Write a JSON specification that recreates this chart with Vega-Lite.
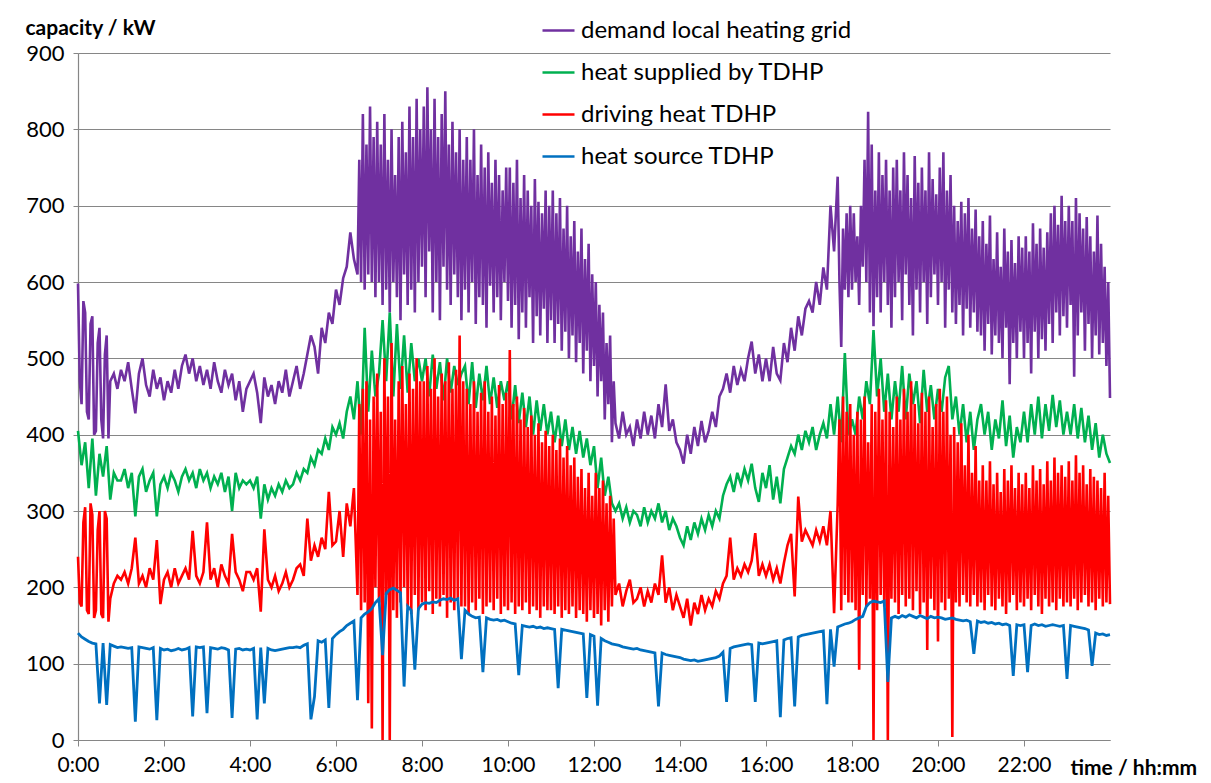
{
"$schema":"https://vega.github.io/schema/vega-lite/v6.json",
"width":1032,"height":687,
"autosize":{"type":"none"},
"padding":{"left":78,"top":53,"right":101,"bottom":43},
"background":"white",
"config":{"view":{"stroke":null},"font":"Lato"},
"data":{"values":[
{"m":0,"d":598,"g":405,"r":240,"b":140},{"m":5,"d":440,"g":360,"r":175,"b":135},{"m":10,"d":560,"g":390,"r":305,"b":132},{"m":15,"d":420,"g":330,"r":165,"b":129},{"m":20,"d":555,"g":395,"r":295,"b":127},{"m":25,"d":405,"g":320,"r":170,"b":126},{"m":30,"d":540,"g":375,"r":300,"b":48},{"m":35,"d":395,"g":345,"r":160,"b":127},{"m":40,"d":530,"g":385,"r":290,"b":46},{"m":45,"d":470,"g":315,"r":185,"b":125},{"m":50,"d":480,"g":350,"r":205,"b":123},{"m":55,"d":460,"g":340,"r":215,"b":121},
{"m":60,"d":485,"g":340,"r":210,"b":122},{"m":65,"d":470,"g":355,"r":220,"b":121},{"m":70,"d":495,"g":330,"r":205,"b":120},{"m":75,"d":460,"g":350,"r":225,"b":121},{"m":80,"d":428,"g":293,"r":265,"b":24},{"m":85,"d":480,"g":345,"r":205,"b":122},{"m":90,"d":500,"g":355,"r":215,"b":121},{"m":95,"d":465,"g":325,"r":200,"b":120},{"m":100,"d":450,"g":340,"r":225,"b":119},{"m":105,"d":485,"g":350,"r":210,"b":121},{"m":110,"d":460,"g":293,"r":262,"b":26},{"m":115,"d":475,"g":335,"r":178,"b":120},
{"m":120,"d":445,"g":345,"r":210,"b":118},{"m":125,"d":470,"g":330,"r":220,"b":119},{"m":130,"d":455,"g":350,"r":200,"b":117},{"m":135,"d":485,"g":340,"r":225,"b":118},{"m":140,"d":460,"g":325,"r":205,"b":120},{"m":145,"d":490,"g":345,"r":215,"b":118},{"m":150,"d":505,"g":355,"r":225,"b":119},{"m":155,"d":480,"g":340,"r":210,"b":121},{"m":160,"d":500,"g":350,"r":274,"b":31},{"m":165,"d":470,"g":330,"r":215,"b":122},{"m":170,"d":490,"g":355,"r":205,"b":121},{"m":175,"d":465,"g":340,"r":220,"b":122},
{"m":180,"d":485,"g":350,"r":285,"b":35},{"m":185,"d":460,"g":330,"r":210,"b":121},{"m":190,"d":495,"g":345,"r":225,"b":120},{"m":195,"d":470,"g":335,"r":200,"b":119},{"m":200,"d":455,"g":350,"r":230,"b":121},{"m":205,"d":485,"g":325,"r":215,"b":120},{"m":210,"d":465,"g":345,"r":205,"b":118},{"m":215,"d":480,"g":300,"r":270,"b":29},{"m":220,"d":445,"g":350,"r":220,"b":119},{"m":225,"d":470,"g":330,"r":210,"b":120},{"m":230,"d":430,"g":340,"r":195,"b":118},{"m":235,"d":460,"g":335,"r":220,"b":119},
{"m":240,"d":470,"g":340,"r":220,"b":118},{"m":245,"d":480,"g":330,"r":210,"b":120},{"m":250,"d":455,"g":345,"r":225,"b":27},{"m":255,"d":415,"g":290,"r":168,"b":121},{"m":260,"d":475,"g":335,"r":276,"b":48},{"m":265,"d":450,"g":315,"r":210,"b":120},{"m":270,"d":465,"g":330,"r":200,"b":118},{"m":275,"d":440,"g":320,"r":215,"b":117},{"m":280,"d":470,"g":335,"r":195,"b":118},{"m":285,"d":455,"g":325,"r":205,"b":119},{"m":290,"d":485,"g":340,"r":220,"b":120},{"m":295,"d":450,"g":330,"r":200,"b":121},
{"m":300,"d":470,"g":335,"r":210,"b":121},{"m":305,"d":490,"g":350,"r":225,"b":122},{"m":310,"d":460,"g":340,"r":230,"b":121},{"m":315,"d":480,"g":355,"r":215,"b":124},{"m":320,"d":505,"g":350,"r":290,"b":126},{"m":325,"d":530,"g":370,"r":235,"b":27},{"m":330,"d":515,"g":360,"r":255,"b":57},{"m":335,"d":480,"g":380,"r":240,"b":130},{"m":340,"d":540,"g":375,"r":265,"b":128},{"m":345,"d":520,"g":395,"r":250,"b":131},{"m":350,"d":560,"g":380,"r":325,"b":42},{"m":355,"d":545,"g":410,"r":255,"b":133},
{"m":360,"d":590,"g":400,"r":260,"b":138},{"m":365,"d":570,"g":415,"r":300,"b":142},{"m":370,"d":605,"g":395,"r":240,"b":145},{"m":375,"d":620,"g":430,"r":310,"b":150},{"m":380,"d":665,"g":450,"r":280,"b":153},{"m":385,"d":630,"g":420,"r":330,"b":156},{"m":390,"d":610,"g":470,"r":190,"b":52},{"m":395,"d":600,"g":400,"r":170,"b":160},{"m":400,"d":590,"g":540,"r":180,"b":165},{"m":405,"d":610,"g":430,"r":48,"b":168},{"m":410,"d":600,"g":510,"r":15,"b":172},{"m":415,"d":580,"g":450,"r":200,"b":180},
{"m":420,"d":600,"g":480,"r":180,"b":185},{"m":425,"d":570,"g":550,"r":0,"b":111},{"m":430,"d":590,"g":470,"r":190,"b":192},{"m":435,"d":560,"g":560,"r":0,"b":197},{"m":440,"d":600,"g":450,"r":170,"b":199},{"m":445,"d":580,"g":545,"r":160,"b":196},{"m":450,"d":550,"g":460,"r":180,"b":193},{"m":455,"d":610,"g":530,"r":200,"b":70},{"m":460,"d":570,"g":455,"r":175,"b":175},{"m":465,"d":590,"g":520,"r":165,"b":170},{"m":470,"d":560,"g":470,"r":190,"b":92},{"m":475,"d":600,"g":500,"r":170,"b":172},
{"m":480,"d":620,"g":470,"r":180,"b":178},{"m":485,"d":580,"g":500,"r":170,"b":180},{"m":490,"d":640,"g":450,"r":195,"b":179},{"m":495,"d":560,"g":505,"r":165,"b":181},{"m":500,"d":600,"g":460,"r":185,"b":180},{"m":505,"d":550,"g":495,"r":175,"b":183},{"m":510,"d":620,"g":445,"r":190,"b":185},{"m":515,"d":590,"g":500,"r":160,"b":184},{"m":520,"d":570,"g":455,"r":180,"b":186},{"m":525,"d":610,"g":490,"r":170,"b":183},{"m":530,"d":580,"g":465,"r":185,"b":185},{"m":535,"d":550,"g":480,"r":175,"b":106},
{"m":540,"d":590,"g":490,"r":175,"b":170},{"m":545,"d":560,"g":440,"r":165,"b":165},{"m":550,"d":600,"g":495,"r":180,"b":162},{"m":555,"d":545,"g":435,"r":170,"b":160},{"m":560,"d":580,"g":480,"r":185,"b":161},{"m":565,"d":570,"g":445,"r":165,"b":89},{"m":570,"d":540,"g":490,"r":175,"b":160},{"m":575,"d":595,"g":440,"r":180,"b":158},{"m":580,"d":560,"g":475,"r":170,"b":157},{"m":585,"d":580,"g":435,"r":185,"b":158},{"m":590,"d":550,"g":470,"r":165,"b":156},{"m":595,"d":600,"g":445,"r":175,"b":157},
{"m":600,"d":575,"g":470,"r":170,"b":155},{"m":605,"d":540,"g":420,"r":180,"b":153},{"m":610,"d":570,"g":465,"r":165,"b":152},{"m":615,"d":525,"g":415,"r":175,"b":85},{"m":620,"d":560,"g":455,"r":170,"b":150},{"m":625,"d":540,"g":410,"r":180,"b":149},{"m":630,"d":580,"g":450,"r":165,"b":148},{"m":635,"d":520,"g":400,"r":175,"b":149},{"m":640,"d":555,"g":445,"r":170,"b":147},{"m":645,"d":530,"g":405,"r":160,"b":148},{"m":650,"d":565,"g":440,"r":175,"b":146},{"m":655,"d":520,"g":400,"r":170,"b":147},
{"m":660,"d":550,"g":430,"r":170,"b":146},{"m":665,"d":520,"g":390,"r":165,"b":145},{"m":670,"d":545,"g":425,"r":175,"b":68},{"m":675,"d":510,"g":385,"r":160,"b":145},{"m":680,"d":535,"g":420,"r":170,"b":144},{"m":685,"d":500,"g":380,"r":165,"b":143},{"m":690,"d":530,"g":410,"r":175,"b":142},{"m":695,"d":495,"g":375,"r":160,"b":141},{"m":700,"d":520,"g":405,"r":170,"b":140},{"m":705,"d":480,"g":370,"r":165,"b":139},{"m":710,"d":510,"g":395,"r":155,"b":55},{"m":715,"d":470,"g":360,"r":170,"b":138},
{"m":720,"d":490,"g":385,"r":160,"b":136},{"m":725,"d":450,"g":330,"r":165,"b":45},{"m":730,"d":470,"g":370,"r":150,"b":133},{"m":735,"d":420,"g":320,"r":170,"b":130},{"m":740,"d":440,"g":345,"r":155,"b":128},{"m":745,"d":390,"g":310,"r":175,"b":126},{"m":750,"d":415,"g":300,"r":190,"b":125},{"m":755,"d":395,"g":310,"r":205,"b":124},{"m":760,"d":430,"g":290,"r":175,"b":122},{"m":765,"d":400,"g":305,"r":195,"b":121},{"m":770,"d":410,"g":285,"r":210,"b":120},{"m":775,"d":385,"g":300,"r":180,"b":119},
{"m":780,"d":420,"g":295,"r":185,"b":120},{"m":785,"d":395,"g":280,"r":200,"b":118},{"m":790,"d":430,"g":305,"r":175,"b":117},{"m":795,"d":400,"g":285,"r":195,"b":116},{"m":800,"d":425,"g":300,"r":180,"b":115},{"m":805,"d":395,"g":290,"r":205,"b":114},{"m":810,"d":440,"g":310,"r":190,"b":44},{"m":815,"d":410,"g":285,"r":242,"b":114},{"m":820,"d":466,"g":300,"r":180,"b":112},{"m":825,"d":405,"g":275,"r":200,"b":111},{"m":830,"d":420,"g":290,"r":170,"b":110},{"m":835,"d":390,"g":280,"r":190,"b":109},
{"m":840,"d":380,"g":265,"r":175,"b":108},{"m":845,"d":362,"g":255,"r":160,"b":106},{"m":850,"d":400,"g":280,"r":185,"b":105},{"m":855,"d":375,"g":262,"r":150,"b":104},{"m":860,"d":410,"g":285,"r":180,"b":105},{"m":865,"d":385,"g":270,"r":165,"b":103},{"m":870,"d":418,"g":290,"r":190,"b":104},{"m":875,"d":390,"g":275,"r":170,"b":105},{"m":880,"d":405,"g":295,"r":185,"b":106},{"m":885,"d":430,"g":280,"r":175,"b":107},{"m":890,"d":410,"g":300,"r":195,"b":108},{"m":895,"d":450,"g":290,"r":185,"b":110},
{"m":900,"d":460,"g":320,"r":205,"b":115},{"m":905,"d":480,"g":335,"r":215,"b":50},{"m":910,"d":455,"g":345,"r":265,"b":120},{"m":915,"d":490,"g":325,"r":210,"b":122},{"m":920,"d":465,"g":350,"r":225,"b":123},{"m":925,"d":485,"g":335,"r":215,"b":124},{"m":930,"d":470,"g":355,"r":230,"b":125},{"m":935,"d":500,"g":340,"r":220,"b":126},{"m":940,"d":522,"g":362,"r":235,"b":125},{"m":945,"d":480,"g":330,"r":271,"b":50},{"m":950,"d":505,"g":312,"r":215,"b":127},{"m":955,"d":470,"g":350,"r":230,"b":126},
{"m":960,"d":500,"g":330,"r":215,"b":127},{"m":965,"d":470,"g":360,"r":230,"b":128},{"m":970,"d":515,"g":315,"r":210,"b":129},{"m":975,"d":480,"g":345,"r":225,"b":130},{"m":980,"d":471,"g":310,"r":205,"b":30},{"m":985,"d":520,"g":355,"r":232,"b":131},{"m":990,"d":495,"g":370,"r":255,"b":133},{"m":995,"d":540,"g":385,"r":270,"b":134},{"m":1000,"d":510,"g":375,"r":188,"b":44},{"m":1005,"d":555,"g":400,"r":319,"b":135},{"m":1010,"d":530,"g":380,"r":260,"b":137},{"m":1015,"d":565,"g":405,"r":275,"b":138},
{"m":1020,"d":575,"g":390,"r":265,"b":139},{"m":1025,"d":560,"g":410,"r":255,"b":140},{"m":1030,"d":600,"g":380,"r":275,"b":141},{"m":1035,"d":570,"g":400,"r":260,"b":142},{"m":1040,"d":619,"g":415,"r":280,"b":143},{"m":1045,"d":590,"g":395,"r":255,"b":47},{"m":1050,"d":700,"g":440,"r":300,"b":145},{"m":1055,"d":640,"g":400,"r":166,"b":96},{"m":1060,"d":738,"g":450,"r":308,"b":148},{"m":1065,"d":515,"g":390,"r":170,"b":150},{"m":1070,"d":590,"g":507,"r":190,"b":152},{"m":1075,"d":580,"g":400,"r":180,"b":153},
{"m":1080,"d":590,"g":420,"r":180,"b":155},{"m":1085,"d":600,"g":400,"r":170,"b":158},{"m":1090,"d":570,"g":450,"r":92,"b":160},{"m":1095,"d":620,"g":420,"r":190,"b":162},{"m":1100,"d":600,"g":470,"r":175,"b":175},{"m":1105,"d":560,"g":440,"r":185,"b":180},{"m":1110,"d":542,"g":537,"r":0,"b":182},{"m":1115,"d":580,"g":450,"r":170,"b":181},{"m":1120,"d":560,"g":500,"r":190,"b":180},{"m":1125,"d":600,"g":430,"r":175,"b":182},{"m":1130,"d":570,"g":480,"r":0,"b":76},{"m":1135,"d":540,"g":420,"r":185,"b":160},
{"m":1140,"d":580,"g":470,"r":180,"b":162},{"m":1145,"d":600,"g":430,"r":165,"b":160},{"m":1150,"d":550,"g":490,"r":190,"b":163},{"m":1155,"d":610,"g":420,"r":175,"b":161},{"m":1160,"d":570,"g":480,"r":185,"b":164},{"m":1165,"d":530,"g":440,"r":170,"b":162},{"m":1170,"d":590,"g":470,"r":195,"b":160},{"m":1175,"d":560,"g":415,"r":165,"b":163},{"m":1180,"d":600,"g":485,"r":180,"b":161},{"m":1185,"d":545,"g":430,"r":118,"b":159},{"m":1190,"d":580,"g":465,"r":185,"b":162},{"m":1195,"d":610,"g":420,"r":170,"b":160},
{"m":1200,"d":570,"g":460,"r":129,"b":161},{"m":1205,"d":600,"g":430,"r":180,"b":160},{"m":1210,"d":540,"g":475,"r":170,"b":158},{"m":1215,"d":590,"g":490,"r":185,"b":159},{"m":1220,"d":560,"g":420,"r":4,"b":160},{"m":1225,"d":545,"g":450,"r":180,"b":158},{"m":1230,"d":570,"g":400,"r":175,"b":157},{"m":1235,"d":530,"g":440,"r":190,"b":156},{"m":1240,"d":565,"g":390,"r":180,"b":157},{"m":1245,"d":540,"g":430,"r":175,"b":155},{"m":1250,"d":560,"g":380,"r":190,"b":113},{"m":1255,"d":535,"g":420,"r":175,"b":156},
{"m":1260,"d":530,"g":440,"r":180,"b":154},{"m":1265,"d":510,"g":400,"r":170,"b":155},{"m":1270,"d":545,"g":430,"r":190,"b":153},{"m":1275,"d":505,"g":380,"r":175,"b":154},{"m":1280,"d":530,"g":420,"r":170,"b":152},{"m":1285,"d":520,"g":395,"r":185,"b":153},{"m":1290,"d":500,"g":445,"r":175,"b":151},{"m":1295,"d":540,"g":385,"r":165,"b":152},{"m":1300,"d":466,"g":425,"r":180,"b":150},{"m":1305,"d":520,"g":370,"r":190,"b":84},{"m":1310,"d":500,"g":410,"r":170,"b":151},{"m":1315,"d":535,"g":390,"r":180,"b":150},
{"m":1320,"d":500,"g":430,"r":175,"b":151},{"m":1325,"d":520,"g":390,"r":185,"b":89},{"m":1330,"d":480,"g":440,"r":170,"b":150},{"m":1335,"d":535,"g":400,"r":190,"b":152},{"m":1340,"d":500,"g":450,"r":175,"b":150},{"m":1345,"d":525,"g":395,"r":165,"b":151},{"m":1350,"d":510,"g":440,"r":185,"b":149},{"m":1355,"d":545,"g":405,"r":175,"b":150},{"m":1360,"d":520,"g":452,"r":180,"b":151},{"m":1365,"d":560,"g":410,"r":170,"b":150},{"m":1370,"d":530,"g":445,"r":185,"b":149},{"m":1375,"d":555,"g":400,"r":175,"b":150},
{"m":1380,"d":540,"g":430,"r":180,"b":80},{"m":1385,"d":570,"g":400,"r":175,"b":150},{"m":1390,"d":476,"g":440,"r":185,"b":149},{"m":1395,"d":530,"g":395,"r":170,"b":148},{"m":1400,"d":560,"g":435,"r":180,"b":147},{"m":1405,"d":510,"g":390,"r":190,"b":146},{"m":1410,"d":545,"g":425,"r":175,"b":144},{"m":1415,"d":500,"g":380,"r":180,"b":97},{"m":1420,"d":530,"g":415,"r":170,"b":140},{"m":1425,"d":505,"g":370,"r":185,"b":138},{"m":1430,"d":520,"g":400,"r":175,"b":139},{"m":1435,"d":490,"g":375,"r":180,"b":137},{"m":1440,"d":448,"g":363,"r":178,"b":138},
{"m":2.5,"d":470,"r":180},{"m":7.5,"d":575,"r":285},{"m":12.5,"d":430,"r":170},{"m":17.5,"d":545,"r":310},{"m":22.5,"d":400,"r":160},{"m":27.5,"d":520,"r":275},{"m":32.5,"d":420,"r":165},{"m":37.5,"d":505,"r":300},{"m":42.5,"d":395,"r":155},
{"m":392.5,"d":760,"r":440},{"m":397.5,"d":820,"r":460},{"m":402.5,"d":780,"r":470},{"m":407.5,"d":830,"r":420},{"m":412.5,"d":790,"r":450},{"m":417.5,"d":810,"r":480},
{"m":422.5,"d":780,"r":430},{"m":427.5,"d":820,"r":500},{"m":432.5,"d":760,"r":450},{"m":437.5,"d":800,"r":520},{"m":442.5,"d":740,"r":420},{"m":447.5,"d":790,"r":470},{"m":452.5,"d":810,"r":490},{"m":457.5,"d":770,"r":440},{"m":462.5,"d":830,"r":480},{"m":467.5,"d":790,"r":460},{"m":472.5,"d":840,"r":500},{"m":477.5,"d":800,"r":470},
{"m":482.5,"d":830,"r":470},{"m":487.5,"d":855,"r":490},{"m":492.5,"d":800,"r":460},{"m":497.5,"d":840,"r":500},{"m":502.5,"d":790,"r":450},{"m":507.5,"d":820,"r":480},{"m":512.5,"d":850,"r":470},{"m":517.5,"d":780,"r":495},{"m":522.5,"d":810,"r":460},{"m":527.5,"d":770,"r":485},{"m":532.5,"d":800,"r":530},{"m":537.5,"d":760,"r":470},
{"m":542.5,"d":790,"r":460},{"m":547.5,"d":760,"r":440},{"m":552.5,"d":800,"r":470},{"m":557.5,"d":740,"r":430},{"m":562.5,"d":780,"r":455},{"m":567.5,"d":750,"r":470},{"m":572.5,"d":770,"r":430},{"m":577.5,"d":730,"r":450},{"m":582.5,"d":760,"r":425},{"m":587.5,"d":740,"r":465},{"m":592.5,"d":720,"r":440},{"m":597.5,"d":750,"r":455},
{"m":602.5,"d":750,"r":511},{"m":607.5,"d":730,"r":440},{"m":612.5,"d":760,"r":450},{"m":617.5,"d":710,"r":420},{"m":622.5,"d":740,"r":435},{"m":627.5,"d":720,"r":410},{"m":632.5,"d":700,"r":425},{"m":637.5,"d":735,"r":400},{"m":642.5,"d":705,"r":415},{"m":647.5,"d":690,"r":390},{"m":652.5,"d":720,"r":405},{"m":657.5,"d":700,"r":385},
{"m":662.5,"d":720,"r":400},{"m":667.5,"d":690,"r":380},{"m":672.5,"d":710,"r":395},{"m":677.5,"d":670,"r":370},{"m":682.5,"d":700,"r":385},{"m":687.5,"d":660,"r":360},{"m":692.5,"d":680,"r":370},{"m":697.5,"d":640,"r":345},{"m":702.5,"d":670,"r":355},{"m":707.5,"d":630,"r":330},{"m":712.5,"d":650,"r":350},{"m":717.5,"d":610,"r":320},
{"m":722.5,"d":600,"r":350},{"m":727.5,"d":570,"r":330},{"m":732.5,"d":560,"r":340},{"m":737.5,"d":520,"r":310},{"m":742.5,"d":530,"r":320},{"m":747.5,"d":470,"r":290},
{"m":1062.5,"d":600,"r":420},{"m":1067.5,"d":670,"r":450},{"m":1072.5,"d":690,"r":430},{"m":1077.5,"d":700,"r":440},
{"m":1082.5,"d":690,"r":400},{"m":1087.5,"d":660,"r":430},{"m":1092.5,"d":700,"r":420},{"m":1097.5,"d":760,"r":450},{"m":1102.5,"d":823,"r":390},{"m":1107.5,"d":780,"r":440},{"m":1112.5,"d":720,"r":430},{"m":1117.5,"d":770,"r":460},{"m":1122.5,"d":740,"r":420},{"m":1127.5,"d":760,"r":445},{"m":1132.5,"d":720,"r":430},{"m":1137.5,"d":750,"r":410},
{"m":1142.5,"d":760,"r":450},{"m":1147.5,"d":720,"r":420},{"m":1152.5,"d":770,"r":460},{"m":1157.5,"d":740,"r":430},{"m":1162.5,"d":710,"r":470},{"m":1167.5,"d":765,"r":440},{"m":1172.5,"d":730,"r":415},{"m":1177.5,"d":750,"r":455},{"m":1182.5,"d":720,"r":430},{"m":1187.5,"d":770,"r":450},{"m":1192.5,"d":735,"r":410},{"m":1197.5,"d":715,"r":440},
{"m":1202.5,"d":750,"r":460},{"m":1207.5,"d":770,"r":430},{"m":1212.5,"d":720,"r":450},{"m":1217.5,"d":740,"r":400},{"m":1222.5,"d":700,"r":410},{"m":1227.5,"d":680,"r":390},{"m":1232.5,"d":705,"r":415},{"m":1237.5,"d":690,"r":360},{"m":1242.5,"d":710,"r":400},{"m":1247.5,"d":670,"r":350},{"m":1252.5,"d":695,"r":385},{"m":1257.5,"d":660,"r":340},
{"m":1262.5,"d":680,"r":360},{"m":1267.5,"d":650,"r":340},{"m":1272.5,"d":687,"r":365},{"m":1277.5,"d":630,"r":335},{"m":1282.5,"d":665,"r":350},{"m":1287.5,"d":620,"r":325},{"m":1292.5,"d":670,"r":355},{"m":1297.5,"d":640,"r":340},{"m":1302.5,"d":655,"r":360},{"m":1307.5,"d":625,"r":330},{"m":1312.5,"d":660,"r":350},{"m":1317.5,"d":645,"r":335},
{"m":1322.5,"d":660,"r":350},{"m":1327.5,"d":640,"r":330},{"m":1332.5,"d":677,"r":360},{"m":1337.5,"d":650,"r":340},{"m":1342.5,"d":670,"r":355},{"m":1347.5,"d":645,"r":335},{"m":1352.5,"d":665,"r":365},{"m":1357.5,"d":690,"r":340},{"m":1362.5,"d":700,"r":370},{"m":1367.5,"d":675,"r":350},{"m":1372.5,"d":713,"r":360},{"m":1377.5,"d":680,"r":345},
{"m":1382.5,"d":700,"r":365},{"m":1387.5,"d":680,"r":340},{"m":1392.5,"d":710,"r":373},{"m":1397.5,"d":690,"r":350},{"m":1402.5,"d":670,"r":360},{"m":1407.5,"d":685,"r":335},{"m":1412.5,"d":660,"r":355},{"m":1417.5,"d":640,"r":345},{"m":1422.5,"d":687,"r":340},{"m":1427.5,"d":650,"r":330},{"m":1432.5,"d":620,"r":350},{"m":1437.5,"d":600,"r":320}
]},
"encoding":{
"x":{"field":"m","type":"quantitative","scale":{"domain":[0,1440],"nice":false,"zero":false},
"axis":{"values":[0,120,240,360,480,600,720,840,960,1080,1200,1320],"labelExpr":"floor(datum.value/60)+':00'","labelFlush":false,"grid":false,"domainColor":"#868686","domainWidth":1.2,"tickColor":"#868686","tickSize":6,"labelFontSize":21,"labelColor":"#000000","labelPadding":8,"title":"time / hh:mm","titleFontSize":21,"titleFontWeight":"bold","titleColor":"#000000","titleX":992,"titleY":28,"titleAlign":"left","titleBaseline":"middle"}}
},
"layer":[
{"transform":[{"filter":"isValid(datum.d)"}],"mark":{"type":"line","strokeWidth":2.6},
"encoding":{"y":{"field":"d","type":"quantitative","title":"capacity / kW","scale":{"domain":[0,900],"nice":false},
"axis":{"values":[0,100,200,300,400,500,600,700,800,900],"labelFlush":false,"grid":true,"gridColor":"#868686","gridWidth":1.2,"domainColor":"#868686","domainWidth":1.2,"tickColor":"#868686","tickSize":5,"labelFontSize":22,"labelColor":"#000000","labelPadding":9,"titleAngle":0,"titleX":-53,"titleY":-25,"titleAlign":"left","titleBaseline":"middle","titleFontSize":21,"titleFontWeight":"bold","titleColor":"#000000"}},
"color":{"datum":"demand local heating grid","type":"nominal","scale":{"domain":["demand local heating grid","heat supplied by TDHP","driving heat TDHP","heat source TDHP"],"range":["#7030A0","#00B050","#FF0000","#0070C0"]},
"legend":{"orient":"none","legendX":463,"legendY":-40,"title":null,"symbolType":"stroke","symbolSize":1024,"symbolStrokeWidth":2.5,"labelFontSize":24,"labelLimit":0,"labelColor":"#000000","rowPadding":12,"labelOffset":5,"padding":0}}}},
{"transform":[{"filter":"isValid(datum.g)"}],"mark":{"type":"line","strokeWidth":2.6},
"encoding":{"y":{"field":"g","type":"quantitative","title":"capacity / kW"},"color":{"datum":"heat supplied by TDHP","type":"nominal"}}},
{"transform":[{"filter":"isValid(datum.r)"}],"mark":{"type":"line","strokeWidth":2.6},
"encoding":{"y":{"field":"r","type":"quantitative","title":"capacity / kW"},"color":{"datum":"driving heat TDHP","type":"nominal"}}},
{"transform":[{"filter":"isValid(datum.b)"}],"mark":{"type":"line","strokeWidth":2.8},
"encoding":{"y":{"field":"b","type":"quantitative","title":"capacity / kW"},"color":{"datum":"heat source TDHP","type":"nominal"}}}
]
}
